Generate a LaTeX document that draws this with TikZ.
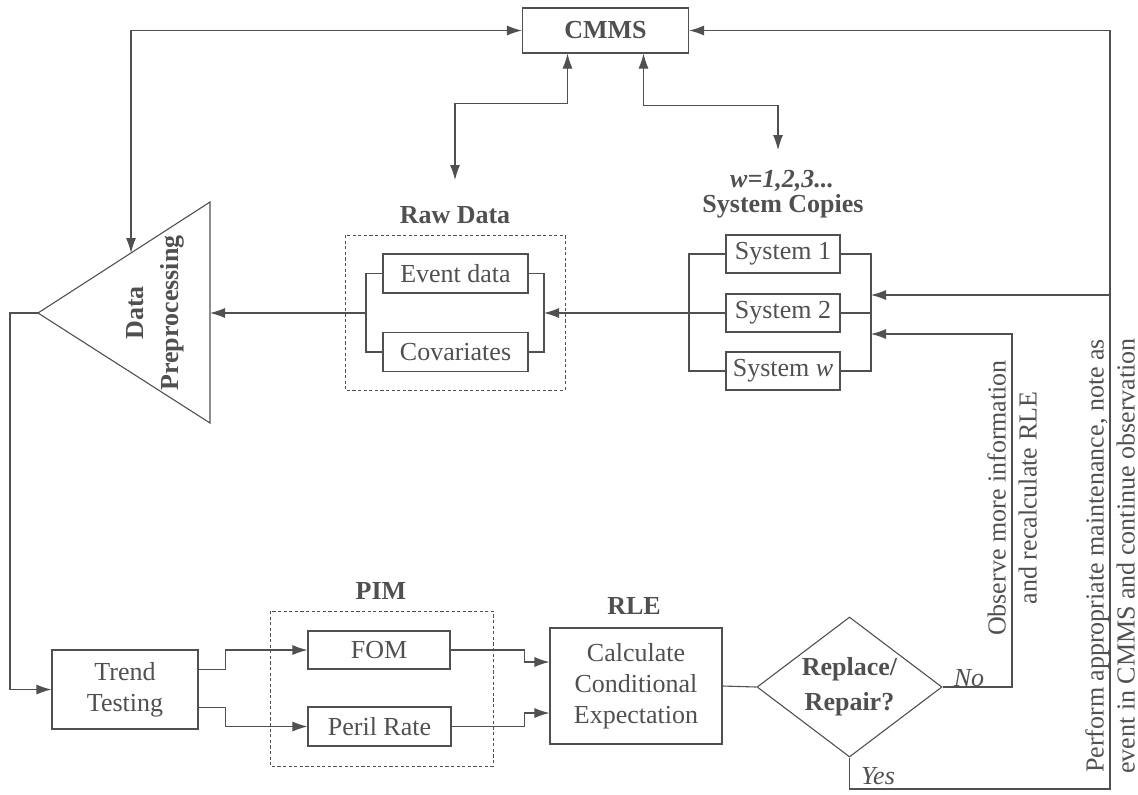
\documentclass[tikz,border=0pt]{standalone}
\usepackage{fontspec}
\setmainfont{Liberation Serif}
\usepackage{tikz}
\usetikzlibrary{arrows.meta,shapes.geometric}
\definecolor{ink}{HTML}{505050}

\begin{document}
\begin{tikzpicture}[x=0.5pt, y=-0.5pt, color=ink, line width=0.55pt,
  font=\fontsize{13}{15.5}\selectfont,
  box/.style={draw, rectangle, inner sep=0pt, align=center},
  grp/.style={draw, dash pattern=on 1.6pt off 1.2pt, line width=0.4pt},
  lbl/.style={font=\fontsize{13}{17.5}\selectfont\bfseries, align=center},
  note/.style={font=\fontsize{13}{15.5}\selectfont\itshape},
  >={Latex[length=7.5pt,width=5pt]}]
  \useasboundingbox (0,0) rectangle (1138,794);

  \node[box, lbl, minimum width=83pt, minimum height=22.5pt] (cmms) at (605.5,30.5) {CMMS};

  \draw (38,313) coordinate (triApex) -- (210,202) -- (210,423) -- cycle;
  \coordinate (triR) at (210,313);
  \coordinate (triTop) at (131,253);
  \node[lbl, rotate=90] (dp) at (155,313) {Data\\Preprocessing};

  \node[box, minimum width=72.5pt, minimum height=19.5pt] (ev) at (455.5,273.5) {Event data};
  \node[box, minimum width=72.5pt, minimum height=19.5pt] (cov) at (455.5,352) {Covariates};
  \draw[grp] (345,235) rectangle (565,390);
  \node[lbl] (rawlbl) at (455,215) {Raw Data};
  \coordinate (rawBL) at (366,313);
  \coordinate (rawBR) at (544,313);
  \draw (ev.west) -| (rawBL) |- (cov.west);
  \draw (ev.east) -| (rawBR) |- (cov.east);

  \node[box, minimum width=57pt, minimum height=19pt] (sys1) at (783,254) {System 1};
  \node[box, minimum width=57pt, minimum height=19pt] (sys2) at (783,313) {System 2};
  \node[box, minimum width=57pt, minimum height=19pt] (sysw) at (783,371) {System \textit{w}};
  \node[lbl] (wlbl) at (782,181) {\itshape w=1,2,3...};
  \node[lbl] (syslbl) at (783,206) {System Copies};
  \coordinate (sysBL) at (689,313);
  \coordinate (sysBR) at (871,313);
  \draw (sys1.west) -| (sysBL) |- (sysw.west);
  \draw (sys1.east) -| (sysBR) |- (sysw.east);
  \draw (sys2.east) -- (sysBR);
  \draw[->] (sys2.west) -- (rawBR);
  \draw[->] (rawBL) -- (triR);

  \coordinate (rawTip) at (455,180);
  \coordinate (sysTip) at (778,150);
  \draw[<->] (triTop) |- (cmms.west);
  \draw[<->] ([xshift=-19pt]cmms.south) -- ++(0,50) -| (rawTip);
  \draw[<->] ([xshift=19pt]cmms.south) -- ++(0,52) -| (sysTip);

  \node[box, minimum width=73pt, minimum height=39.5pt] (trend) at (125,689.5) {Trend\\Testing};
  \node[box, minimum width=71pt, minimum height=19pt] (fom) at (379,650) {FOM};
  \node[box, minimum width=71.5pt, minimum height=19.5pt] (peril) at (379.5,726.5) {Peril Rate};
  \draw[grp] (270,611) rectangle (493,766);
  \node[lbl] (pimlbl) at (381,591) {PIM};
  \node[box, minimum width=86pt, minimum height=58pt] (calc) at (636,686) {Calculate\\Conditional\\Expectation};
  \node[lbl] (rlelbl) at (634,606) {RLE};
  \node[draw, diamond, lbl, inner sep=0pt, shape aspect=1.32, minimum width=92.5pt, minimum height=70pt] (dia) at (849.5,687) {Replace/\\Repair?};

  \draw[->] (triApex) -- ++(-28,0) |- (trend.west);
  \draw[->] ([yshift=10pt]trend.east) -- ++(27,0) |- (fom.west);
  \draw[->] ([yshift=-9pt]trend.east) -- ++(27,0) |- (peril.west);
  \draw[->] (fom.east) -- ++(74,0) |- ([yshift=12pt]calc.west);
  \draw[->] (peril.east) -- ++(73,0) |- ([yshift=-13.5pt]calc.west);
  \draw (calc.east) -- (dia.west);

  \coordinate (noC) at (1012,334);
  \coordinate (fbB) at (1110,789);
  \coordinate (fbS) at (1110,295);
  \draw[->] (dia.east) -| (noC) -- (noC -| sysBR);
  \draw[->] (dia.south) |- (fbB) |- (cmms.east);
  \draw[->] (fbS) -- (fbS -| sysBR);
  \node[note] (nolbl) at (969,678) {No};
  \node[note] (yeslbl) at (878,776) {Yes};
  \node[rotate=90, align=center] (obs) at (1012,498) {Observe more information\\and recalculate RLE};
  \node[rotate=90, align=center] (perf) at (1110,556) {Perform appropriate maintenance, note as\\event in CMMS and continue observation};
\end{tikzpicture}
\end{document}
